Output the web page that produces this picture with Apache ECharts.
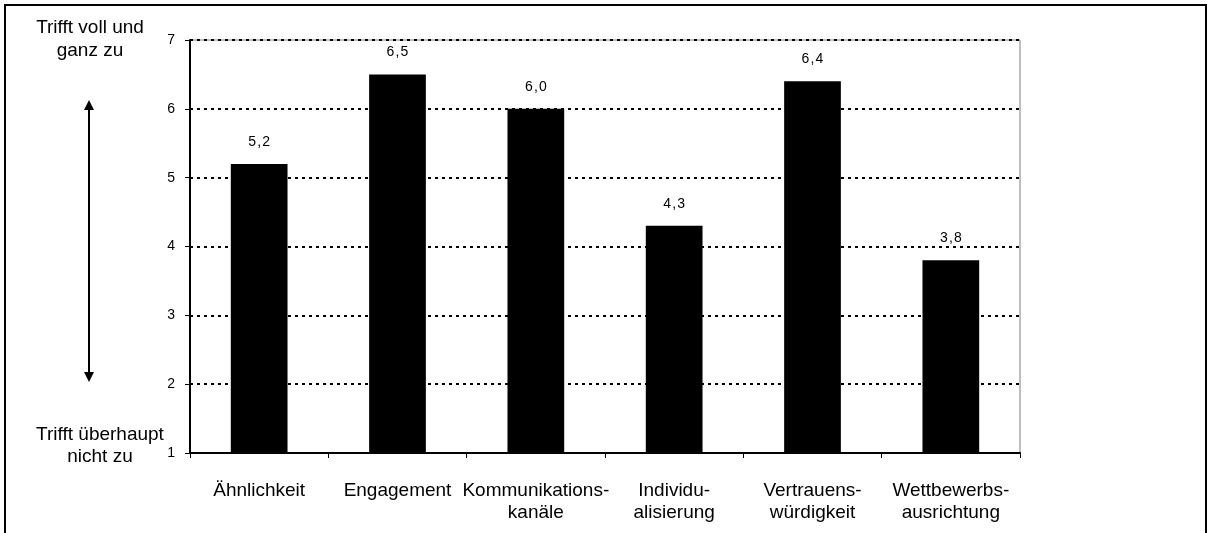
<!DOCTYPE html>
<html>
<head>
<meta charset="utf-8">
<style>
  html, body { margin: 0; padding: 0; background: #fff; }
  #chart { width: 1210px; height: 533px; }
</style>
<script src="https://cdn.jsdelivr.net/npm/echarts@6/dist/echarts.min.js"></script>
</head>
<body>
<div id="chart"></div>
<script>
// categories (line breaks as in the original)
var categories = [
  'Ähnlichkeit',
  'Engagement',
  'Kommunikations-\nkanäle',
  'Individu-\nalisierung',
  'Vertrauens-\nwürdigkeit',
  'Wettbewerbs-\nausrichtung'
]
// mean ratings, 1 = trifft überhaupt nicht zu .. 7 = trifft voll und ganz zu
var values = [5.2, 6.5, 6.0, 4.3, 6.4, 3.8]
var yMin = 1
var yMax = 7
var topText = 'Trifft voll und\nganz zu'
var bottomText = 'Trifft überhaupt\nnicht zu'

var font = '"Liberation Sans", Arial, sans-serif'

var chart = echarts.init(document.getElementById('chart'))

chart.setOption({
  animation: false,
  textStyle: { fontFamily: font },
  grid: {
    left: 190,
    right: 190,
    top: 40,
    bottom: 80,
    show: true,
    borderColor: '#808080',
    borderWidth: 1
  },
  xAxis: {
    type: 'category',
    data: categories,
    axisLine: { lineStyle: { color: '#000', width: 2 } },
    axisTick: { show: true, length: 5, lineStyle: { color: '#000', width: 1 } },
    axisLabel: {
      interval: 0,
      margin: 27,
      color: '#000',
      fontSize: 19,
      lineHeight: 22,
      fontFamily: font
    },
    splitLine: { show: false }
  },
  yAxis: {
    type: 'value',
    min: yMin,
    max: yMax,
    interval: 1,
    axisLine: { show: true, lineStyle: { color: '#000', width: 2 } },
    axisTick: { show: true, length: 5, lineStyle: { color: '#000', width: 1 } },
    axisLabel: { color: '#000', fontSize: 14, margin: 15, fontFamily: font },
    splitLine: {
      show: true,
      lineStyle: { color: '#000', width: 2, type: [3, 4] }
    }
  },
  series: [{
    type: 'bar',
    data: values,
    barWidth: '41%',
    itemStyle: { color: '#000' },
    label: {
      show: true,
      position: 'top',
      distance: 15,
      color: '#000',
      fontSize: 14,
      fontFamily: font,
      backgroundColor: '#fff',
      padding: [0, 3],
      formatter: function (p) {
        return p.value.toFixed(1).replace('.', '\u200A,\u200A')
      }
    }
  }],
  graphic: [
    // outer frame
    {
      type: 'rect',
      shape: { x: 5, y: 5, width: 1201, height: 540 },
      style: { fill: 'none', stroke: '#000', lineWidth: 2 },
      silent: true
    },
    {
      type: 'text',
      x: 90,
      y: 16,
      style: {
        text: topText,
        fill: '#000',
        font: '19px ' + font,
        align: 'center',
        lineHeight: 23
      }
    },
    {
      type: 'text',
      x: 100,
      y: 424,
      style: {
        text: bottomText,
        fill: '#000',
        font: '19px ' + font,
        align: 'center',
        lineHeight: 22
      }
    },
    // double arrow
    {
      type: 'line',
      shape: { x1: 89, y1: 106, x2: 89, y2: 376 },
      style: { stroke: '#000', lineWidth: 2 }
    },
    {
      type: 'polygon',
      shape: { points: [[89, 100], [84, 110], [94, 110]] },
      style: { fill: '#000' }
    },
    {
      type: 'polygon',
      shape: { points: [[89, 382], [84, 372], [94, 372]] },
      style: { fill: '#000' }
    }
  ]
})
</script>
</body>
</html>
